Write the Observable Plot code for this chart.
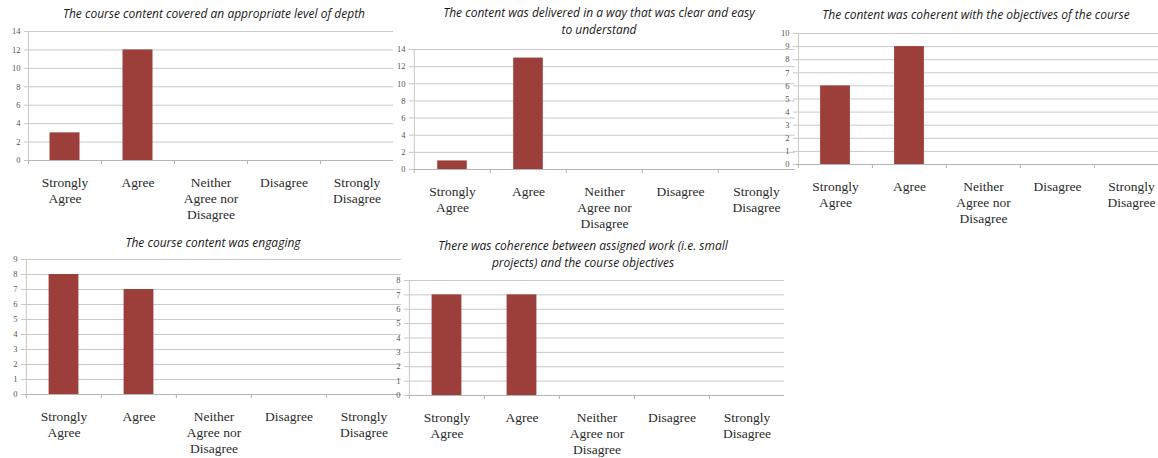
<!DOCTYPE html>
<html>
<head>
<meta charset="utf-8">
<script src="https://cdn.jsdelivr.net/npm/d3@7"></script>
<script src="https://cdn.jsdelivr.net/npm/@observablehq/plot@0.6"></script>
<style>
  html, body { margin: 0; padding: 0; background: #fff; }
  #root { position: relative; width: 1158px; height: 458px; overflow: hidden; background: #fff; }
  .title { position: absolute; font-family: "Open Sans", sans-serif; font-style: italic; font-size: 12px; color: #1a1a1a; text-align: center; line-height: 17px; white-space: nowrap; }
  svg { position: absolute; overflow: visible; }
</style>
</head>
<body>
<div id="root"></div>
<script>
// ---- data ----
const categories = ["Strongly Agree", "Agree", "Neither Agree nor Disagree", "Disagree", "Strongly Disagree"];
const categoryLabels = ["Strongly\nAgree", "Agree", "Neither\nAgree nor\nDisagree", "Disagree", "Strongly\nDisagree"];
const titles = [
  "The course content covered an appropriate level of depth",
  "The content was delivered in a way that was clear and easy\nto understand",
  "The content was coherent with the objectives of the course",
  "The course content was engaging",
  "There was coherence between assigned work (i.e. small\nprojects) and the course objectives"
];
const depthValues     = [3, 12, 0, 0, 0];
const clarityValues   = [1, 13, 0, 0, 0];
const coherentValues  = [6, 9, 0, 0, 0];
const engagingValues  = [8, 7, 0, 0, 0];
const workValues      = [7, 7, 0, 0, 0];
const yMaxes  = [14, 14, 10, 9, 8];
const yStep   = [2, 2, 1, 1, 1];

// ---- layout (pixels) ----
const layouts = [
  {series: depthValues,    plotLeft: 28,  plotRight: 393,  plotTop: 31,  plotBottom: 160, titleX: 214, titleY: 5},
  {series: clarityValues,  plotLeft: 413, plotRight: 795,  plotTop: 49,  plotBottom: 169, titleX: 599, titleY: 4},
  {series: coherentValues, plotLeft: 797, plotRight: 1168, plotTop: 33,  plotBottom: 164, titleX: 976, titleY: 6},
  {series: engagingValues, plotLeft: 25,  plotRight: 401,  plotTop: 259, plotBottom: 394, titleX: 213, titleY: 234},
  {series: workValues,     plotLeft: 408, plotRight: 784,  plotTop: 280, plotBottom: 395, titleX: 583, titleY: 237}
];

const root = document.getElementById("root");
const barColor = "#9c3f3a";
const gridColor = "#c9c9c9";

layouts.forEach((L, i) => {
  const data = categories.map((c, k) => ({category: c, value: L.series[k]}));
  const mL = 30, mR = 0, mT = 10, mB = 70;
  const w = L.plotRight - L.plotLeft;
  const h = L.plotBottom - L.plotTop;
  const bw = w / categories.length;
  const barW = 30;
  const inset = (bw - barW) / 2;
  const yTicks = d3.range(0, yMaxes[i] + 0.001, yStep[i]);
  const labelMap = new Map(categories.map((c, k) => [c, categoryLabels[k]]));

  const chart = Plot.plot({
    width: w + mL + mR,
    height: h + mT + mB,
    marginLeft: mL, marginRight: mR, marginTop: mT, marginBottom: mB,
    style: {background: "transparent", overflow: "visible"},
    x: {type: "band", domain: categories, padding: 0, axis: null},
    y: {domain: [0, yMaxes[i]], axis: null},
    marks: [
      Plot.ruleY(yTicks, {stroke: gridColor, strokeWidth: 1}),
      Plot.ruleX([categories[0]], {dx: -bw / 2, stroke: gridColor}),
      Plot.axisY({ticks: yTicks, tickSize: 4, tickPadding: 4, stroke: gridColor, color: "#555",
        fontFamily: "Liberation Serif, serif", fontSize: 8.5, tickFormat: d3.format("d"), label: null}),
      Plot.barY(data, {x: "category", y: "value", fill: barColor, insetLeft: inset, insetRight: inset}),
      Plot.ruleY([0], {stroke: "#b5b5b5"}),
      Plot.axisX({ticks: categories, tickSize: 4, dx: -bw / 2, stroke: "#b5b5b5", tickFormat: () => "", label: null}),
      Plot.axisX({ticks: categories, tickSize: 0, tickPadding: 15, label: null,
        tickFormat: (d) => labelMap.get(d), lineHeight: 1.2,
        fontFamily: "Liberation Serif, serif", fontSize: 13.5, color: "#2b2b2b"})
    ]
  });
  chart.style.left = (L.plotLeft - mL) + "px";
  chart.style.top = (L.plotTop - mT) + "px";
  root.appendChild(chart);

  const t = document.createElement("div");
  t.className = "title";
  t.innerHTML = titles[i].split("\n").join("<br>");
  t.style.top = L.titleY + "px";
  t.style.left = L.titleX + "px";
  t.style.transform = "translateX(-50%)";
  root.appendChild(t);
});
</script>
</body>
</html>
